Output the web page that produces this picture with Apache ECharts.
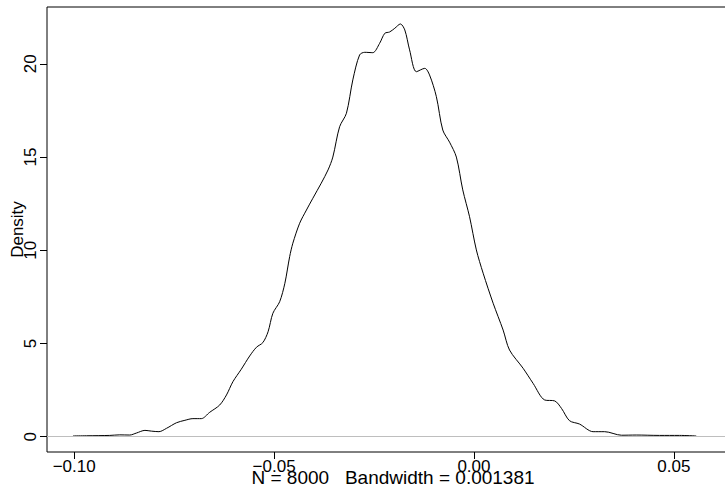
<!DOCTYPE html>
<html>
<head>
<meta charset="utf-8" />
<title>density</title>
<script src="https://cdn.jsdelivr.net/npm/echarts@6/dist/echarts.min.js"></script>
</head>
<body style="margin: 0">
<div id="container" style="width: 725px; height: 488px"></div>
<script type="text/javascript">
// density estimate
var densityX = [-0.1003, -0.0969, -0.0911, -0.0886, -0.0861, -0.0844, -0.0823, -0.0807, -0.0788, -0.0769,
    -0.0744, -0.0723, -0.0703, -0.0682, -0.0661, -0.0636, -0.0619, -0.0603, -0.0582, -0.0561,
    -0.0544, -0.0528, -0.0515, -0.0503, -0.0486, -0.0473, -0.0461, -0.0453, -0.0436, -0.0419,
    -0.0403, -0.0382, -0.0365, -0.0353, -0.0336, -0.0319, -0.0303, -0.0286, -0.0273, -0.0253,
    -0.0236, -0.0223, -0.0211, -0.0198, -0.0184, -0.0173, -0.0161, -0.0144, -0.0123, -0.0111,
    -0.0094, -0.0078, -0.0061, -0.0044, -0.0028, -0.0011, 0.0006, 0.0023, 0.0048, 0.0073,
    0.0089, 0.0123, 0.0148, 0.0177, 0.0202, 0.0219, 0.0239, 0.0264, 0.0298, 0.0327,
    0.0369, 0.0406, 0.0464, 0.0514, 0.0556];
var densityY = [0.04, 0.05, 0.07, 0.10, 0.09, 0.20, 0.34, 0.30, 0.27, 0.45,
    0.75, 0.88, 0.97, 0.97, 1.31, 1.70, 2.24, 2.95, 3.62, 4.33,
    4.80, 5.05, 5.63, 6.62, 7.24, 8.23, 9.66, 10.38, 11.45, 12.16,
    12.79, 13.60, 14.31, 15.00, 16.63, 17.35, 19.14, 20.48, 20.62, 20.60,
    21.10, 21.64, 21.71, 21.91, 22.14, 21.82, 20.75, 19.58, 19.76, 19.40,
    18.24, 16.45, 15.80, 15.00, 13.24, 11.80, 10.02, 8.77, 7.16, 5.72,
    4.65, 3.67, 2.86, 1.97, 1.92, 1.52, 0.86, 0.68, 0.27, 0.27,
    0.08, 0.09, 0.07, 0.07, 0.04];

var xTickValues = [-0.10, -0.05, 0.00, 0.05];
var xTickLabels = ['\u22120.10', '\u22120.05', '0.00', '0.05'];
var yTickValues = [0, 5, 10, 15, 20];
var yTickLabels = ['0', '5', '10', '15', '20'];
var subText = 'N = 8000   Bandwidth = 0.001381';

var points = [];
for (var i = 0; i < densityX.length; i++) {
    points.push([densityX[i], densityY[i]]);
}

var dom = document.getElementById('container');
var myChart = echarts.init(dom, null, {renderer: 'svg'});
var font = 'Liberation Sans, Arial, Helvetica, sans-serif';

var option = {
    animation: false,
    backgroundColor: '#fff',
    textStyle: {fontFamily: font},
    grid: {
        left: 47, top: 7, bottom: 36, right: -4,
        outerBoundsMode: 'none',
        show: true, borderColor: '#000', borderWidth: 1
    },
    graphic: [{
        type: 'text',
        x: 393, y: 468,
        style: {text: subText, font: '19px ' + font, fill: '#000', textAlign: 'center'}
    }],
    xAxis: {
        type: 'value',
        min: -0.1068, max: 0.0638,
        splitLine: {show: false},
        axisLine: {show: false, onZero: false},
        axisTick: {show: true, length: 7, inside: false, customValues: xTickValues,
            lineStyle: {color: '#000'}},
        axisLabel: {
            customValues: xTickValues, margin: 6, color: '#000', fontSize: 17,
            formatter: function (v) {
                var k = xTickValues.indexOf(v);
                return k >= 0 ? xTickLabels[k] : '';
            }
        }
    },
    yAxis: {
        type: 'value',
        min: -0.82, max: 23.05,
        name: 'Density',
        nameLocation: 'middle',
        nameRotate: 90,
        nameGap: 21,
        nameMoveOverlap: false,
        nameTextStyle: {color: '#000', fontSize: 17},
        splitLine: {show: false},
        axisLine: {show: false, onZero: false},
        axisTick: {show: true, length: 7, inside: false, customValues: yTickValues,
            lineStyle: {color: '#000'}},
        axisLabel: {
            customValues: yTickValues, rotate: 90, margin: 8, color: '#000', fontSize: 17,
            formatter: function (v) {
                var k = yTickValues.indexOf(v);
                return k >= 0 ? yTickLabels[k] : '';
            }
        }
    },
    series: [{
        type: 'line',
        data: points,
        smooth: 0.3,
        showSymbol: false,
        lineStyle: {color: '#000', width: 1},
        markLine: {
            silent: true,
            symbol: 'none',
            label: {show: false},
            lineStyle: {color: '#bebebe', width: 1, type: 'solid'},
            data: [{yAxis: 0}]
        }
    }]
};
myChart.setOption(option);
</script>
</body>
</html>
